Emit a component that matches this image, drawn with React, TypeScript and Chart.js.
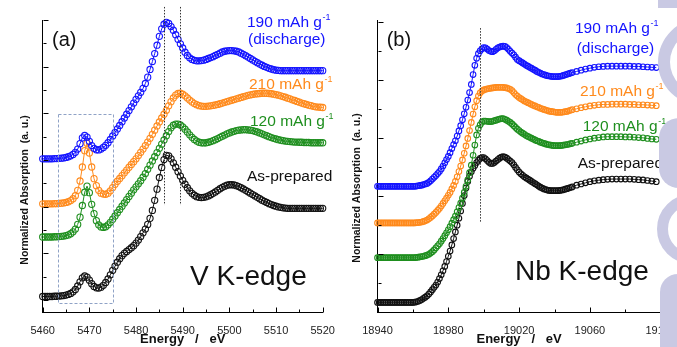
import React, { useEffect, useRef } from 'react';
import { Chart, registerables } from 'chart.js';

Chart.register(...registerables);

const FONT = '"Liberation Sans", Arial, Helvetica, sans-serif';

// ---------------- V K-edge (panel a) ----------------
const V_ENERGY = [
  5460, 5460.5, 5461, 5461.5, 5462, 5462.5, 5463, 5463.5, 5464, 5464.5,
  5465, 5465.5, 5466, 5466.5, 5467, 5467.5, 5468, 5468.5, 5469, 5469.5,
  5470, 5470.5, 5471, 5471.5, 5472, 5472.5, 5473, 5473.5, 5474, 5474.5,
  5475, 5475.5, 5476, 5476.5, 5477, 5477.5, 5478, 5478.5, 5479, 5479.5,
  5480, 5480.5, 5481, 5481.5, 5482, 5482.5, 5483, 5483.5, 5484, 5484.5,
  5485, 5485.5, 5486, 5486.5, 5487, 5487.5, 5488, 5488.5, 5489, 5489.5,
  5490, 5490.5, 5491, 5491.5, 5492, 5492.5, 5493, 5493.5, 5494, 5494.5,
  5495, 5495.5, 5496, 5496.5, 5497, 5497.5, 5498, 5498.5, 5499, 5499.5,
  5500, 5500.5, 5501, 5501.5, 5502, 5502.5, 5503, 5503.5, 5504, 5504.5,
  5505, 5505.5, 5506, 5506.5, 5507, 5507.5, 5508, 5508.5, 5509, 5509.5,
  5510, 5510.5, 5511, 5511.5, 5512, 5512.5, 5513, 5513.5, 5514, 5514.5,
  5515, 5515.5, 5516, 5516.5, 5517, 5517.5, 5518, 5518.5, 5519, 5519.5,
  5520,
];

const V_190 = [
  6.05, 6.05, 6.05, 6.05, 6.05, 6.06, 6.06, 6.07, 6.08, 6.09,
  6.11, 6.14, 6.18, 6.24, 6.33, 6.47, 6.7, 6.95, 7.05, 6.98,
  6.8, 6.62, 6.5, 6.44, 6.43, 6.47, 6.54, 6.63, 6.74, 6.88,
  7.03, 7.18, 7.33, 7.48, 7.64, 7.8, 7.96, 8.12, 8.28, 8.44,
  8.6, 8.75, 8.9, 9.07, 9.28, 9.55, 9.88, 10.22, 10.56, 10.92,
  11.3, 11.62, 11.82, 11.9, 11.85, 11.72, 11.56, 11.37, 11.17, 10.98,
  10.8, 10.62, 10.48, 10.38, 10.31, 10.27, 10.25, 10.25, 10.26, 10.28,
  10.31, 10.35, 10.39, 10.43, 10.48, 10.53, 10.58, 10.63, 10.66, 10.68,
  10.69, 10.69, 10.68, 10.66, 10.63, 10.58, 10.53, 10.47, 10.41, 10.35,
  10.29, 10.23, 10.17, 10.11, 10.06, 10.01, 9.97, 9.93, 9.9, 9.87,
  9.85, 9.84, 9.83, 9.83, 9.83, 9.83, 9.83, 9.83, 9.83, 9.83,
  9.83, 9.83, 9.83, 9.83, 9.83, 9.83, 9.83, 9.83, 9.83, 9.83,
  9.83,
];

const V_210 = [
  4.12, 4.12, 4.12, 4.12, 4.12, 4.13, 4.13, 4.14, 4.15, 4.16,
  4.18, 4.21, 4.26, 4.34, 4.47, 4.7, 5.1, 5.7, 6.4, 6.72,
  6.3, 5.7, 5.2, 4.9, 4.7, 4.58, 4.54, 4.53, 4.58, 4.68,
  4.82, 4.96, 5.09, 5.21, 5.33, 5.45, 5.57, 5.69, 5.81, 5.93,
  6.05, 6.19, 6.33, 6.47, 6.62, 6.77, 6.93, 7.1, 7.28, 7.46,
  7.63, 7.8, 7.96, 8.13, 8.32, 8.5, 8.66, 8.78, 8.85, 8.86,
  8.82, 8.75, 8.66, 8.57, 8.49, 8.42, 8.37, 8.33, 8.31, 8.3,
  8.3, 8.31, 8.32, 8.34, 8.36, 8.38, 8.41, 8.44, 8.47, 8.5,
  8.53, 8.56, 8.59, 8.62, 8.65, 8.68, 8.71, 8.74, 8.77, 8.79,
  8.81, 8.83, 8.84, 8.85, 8.86, 8.86, 8.86, 8.85, 8.84, 8.82,
  8.8, 8.78, 8.75, 8.72, 8.69, 8.65, 8.62, 8.58, 8.55, 8.51,
  8.48, 8.44, 8.41, 8.38, 8.35, 8.33, 8.3, 8.28, 8.27, 8.26,
  8.25,
];

const V_120 = [
  2.7, 2.7, 2.7, 2.7, 2.7, 2.71, 2.71, 2.72, 2.73, 2.74,
  2.76, 2.79, 2.84, 2.92, 3.04, 3.24, 3.55, 4.05, 4.62, 4.88,
  4.6, 4.1, 3.7, 3.4, 3.22, 3.13, 3.11, 3.14, 3.22, 3.33,
  3.46, 3.6, 3.74, 3.88, 4.02, 4.16, 4.3, 4.44, 4.58, 4.72,
  4.85, 4.98, 5.11, 5.26, 5.42, 5.6, 5.78, 5.96, 6.14, 6.32,
  6.5, 6.68, 6.86, 7.04, 7.22, 7.38, 7.49, 7.54, 7.54, 7.5,
  7.42, 7.32, 7.2, 7.08, 6.97, 6.88, 6.81, 6.76, 6.74, 6.73,
  6.74, 6.76, 6.79, 6.83, 6.87, 6.92, 6.97, 7.02, 7.07, 7.12,
  7.16, 7.2, 7.23, 7.26, 7.28, 7.29, 7.3, 7.3, 7.29, 7.28,
  7.26, 7.23, 7.2, 7.16, 7.12, 7.08, 7.04, 7.0, 6.96, 6.93,
  6.9, 6.87, 6.85, 6.83, 6.81, 6.8, 6.79, 6.78, 6.77, 6.77,
  6.76, 6.76, 6.75, 6.75, 6.75, 6.74, 6.74, 6.74, 6.74, 6.74,
  6.74,
];

const V_ASPREP = [
  0.15, 0.15, 0.15, 0.15, 0.15, 0.16, 0.16, 0.17, 0.18, 0.19,
  0.21, 0.24, 0.28, 0.35, 0.45, 0.6, 0.78, 0.95, 1.03, 0.98,
  0.85, 0.7, 0.58, 0.52, 0.51, 0.55, 0.63, 0.75, 0.9, 1.08,
  1.27, 1.45, 1.62, 1.77, 1.9, 2.0, 2.08, 2.16, 2.24, 2.33,
  2.44, 2.57, 2.72, 2.88, 3.04, 3.24, 3.5, 3.84, 4.27, 4.75,
  5.25, 5.68, 6.02, 6.2, 6.18, 6.05, 5.88, 5.69, 5.5, 5.31,
  5.13, 4.96, 4.81, 4.68, 4.57, 4.49, 4.43, 4.4, 4.39, 4.4,
  4.42, 4.46, 4.51, 4.57, 4.63, 4.7, 4.77, 4.83, 4.88, 4.92,
  4.94, 4.94, 4.93, 4.9, 4.86, 4.81, 4.76, 4.7, 4.64, 4.58,
  4.52, 4.46, 4.4, 4.34, 4.28, 4.23, 4.18, 4.13, 4.09, 4.05,
  4.02, 3.99, 3.97, 3.95, 3.94, 3.93, 3.93, 3.93, 3.93, 3.93,
  3.93, 3.93, 3.93, 3.93, 3.93, 3.93, 3.93, 3.93, 3.93, 3.93,
  3.93,
];

const V_X_TICKS = [5460, 5470, 5480, 5490, 5500, 5510, 5520];
const V_X_MINOR = [5465, 5475, 5485, 5495, 5505, 5515];
const V_Y_TICKS = [0, 1, 2, 3, 4, 5, 6, 7, 8, 9, 10, 11, 12];
const V_DOTTED = [5486, 5489.4];

// ---------------- Nb K-edge (panel b) ----------------
const NB_ENERGY = [
  18940, 18941, 18942, 18943, 18944, 18945, 18946, 18947, 18948, 18949,
  18950, 18951, 18952, 18953, 18954, 18955, 18956, 18957, 18958, 18959,
  18960, 18961, 18962, 18963, 18964, 18965, 18966, 18967, 18968, 18969,
  18970, 18971, 18972, 18973, 18974, 18975, 18976, 18977, 18978, 18979,
  18980, 18981, 18982, 18983, 18984, 18985, 18986, 18987, 18988, 18989,
  18990, 18991, 18992, 18993, 18994, 18995, 18996, 18997, 18998, 18999,
  19000, 19001, 19002, 19003, 19004, 19005, 19006, 19007, 19008, 19009,
  19010, 19011, 19012, 19013, 19014, 19015, 19016, 19017, 19018, 19019,
  19020, 19021, 19022, 19023, 19024, 19025, 19026, 19027, 19028, 19029,
  19030, 19031, 19032, 19033, 19034, 19035, 19036, 19037, 19038, 19039,
  19040, 19041, 19042, 19043, 19044, 19045, 19046, 19047, 19048, 19049,
  19050, 19052.5, 19055, 19057.5, 19060, 19062.5, 19065, 19067.5, 19070, 19072.5,
  19075, 19077.5, 19080, 19082.5, 19085, 19087.5, 19090, 19092.5, 19095, 19097.5,
];

const NB_190 = [
  4.33, 4.33, 4.33, 4.33, 4.33, 4.33, 4.33, 4.33, 4.33, 4.33,
  4.33, 4.33, 4.33, 4.33, 4.33, 4.33, 4.33, 4.33, 4.33, 4.33,
  4.33, 4.33, 4.34, 4.35, 4.36, 4.37, 4.39, 4.41, 4.43, 4.47,
  4.52, 4.58, 4.64, 4.7, 4.77, 4.84, 4.93, 5.03, 5.14, 5.25,
  5.36, 5.49, 5.63, 5.77, 5.9, 6.06, 6.24, 6.42, 6.62, 6.83,
  7.05, 7.3, 7.56, 7.84, 8.18, 8.5, 8.74, 8.9, 9.0, 9.07,
  9.11, 9.1, 9.06, 9.01, 8.98, 8.97, 9.0, 9.05, 9.1, 9.13,
  9.15, 9.16, 9.15, 9.11, 9.05, 8.98, 8.92, 8.86, 8.78, 8.7,
  8.66, 8.62, 8.58, 8.54, 8.5, 8.47, 8.43, 8.4, 8.36, 8.33,
  8.29, 8.26, 8.23, 8.2, 8.18, 8.16, 8.14, 8.13, 8.12, 8.11,
  8.11, 8.11, 8.11, 8.12, 8.13, 8.15, 8.17, 8.19, 8.21, 8.23,
  8.25, 8.29, 8.33, 8.37, 8.4, 8.43, 8.45, 8.46, 8.47, 8.47,
  8.47, 8.47, 8.47, 8.47, 8.46, 8.46, 8.45, 8.44, 8.43, 8.42,
];

const NB_210 = [
  3.07, 3.07, 3.07, 3.07, 3.07, 3.07, 3.07, 3.07, 3.07, 3.07,
  3.07, 3.07, 3.07, 3.07, 3.07, 3.07, 3.07, 3.07, 3.07, 3.07,
  3.07, 3.07, 3.08, 3.08, 3.09, 3.1, 3.12, 3.14, 3.17, 3.21,
  3.26, 3.31, 3.37, 3.43, 3.5, 3.57, 3.65, 3.74, 3.83, 3.92,
  4.02, 4.12, 4.24, 4.36, 4.5, 4.66, 4.84, 5.03, 5.24, 5.47,
  5.72, 5.98, 6.25, 6.53, 6.82, 7.07, 7.28, 7.44, 7.55, 7.61,
  7.65, 7.67, 7.69, 7.7, 7.71, 7.72, 7.73, 7.74, 7.74, 7.74,
  7.74, 7.74, 7.73, 7.72, 7.7, 7.67, 7.63, 7.56, 7.49, 7.44,
  7.39, 7.35, 7.31, 7.27, 7.24, 7.21, 7.18, 7.15, 7.12, 7.1,
  7.07, 7.05, 7.02, 7.0, 6.98, 6.96, 6.94, 6.92, 6.91, 6.9,
  6.89, 6.88, 6.88, 6.88, 6.88, 6.89, 6.9, 6.91, 6.93, 6.95,
  6.97, 7.0, 7.04, 7.07, 7.1, 7.12, 7.14, 7.15, 7.15, 7.16,
  7.16, 7.16, 7.16, 7.15, 7.15, 7.14, 7.14, 7.13, 7.12, 7.11,
];

const NB_120 = [
  1.87, 1.87, 1.87, 1.87, 1.87, 1.87, 1.87, 1.87, 1.87, 1.87,
  1.87, 1.87, 1.87, 1.87, 1.87, 1.87, 1.87, 1.87, 1.87, 1.87,
  1.87, 1.87, 1.88, 1.89, 1.9, 1.91, 1.92, 1.94, 1.96, 1.99,
  2.03, 2.08, 2.14, 2.21, 2.28, 2.35, 2.44, 2.53, 2.63, 2.73,
  2.83, 2.94, 3.06, 3.18, 3.3, 3.45, 3.6, 3.75, 3.92, 4.12,
  4.33, 4.55, 4.8, 5.06, 5.4, 5.75, 6.1, 6.33, 6.45, 6.54,
  6.58, 6.58, 6.57, 6.56, 6.56, 6.57, 6.59, 6.61, 6.63, 6.65,
  6.66, 6.66, 6.64, 6.61, 6.57, 6.53, 6.48, 6.42, 6.36, 6.3,
  6.25, 6.2, 6.16, 6.12, 6.08, 6.05, 6.02, 5.99, 5.96, 5.93,
  5.9, 5.88, 5.85, 5.83, 5.81, 5.79, 5.77, 5.76, 5.75, 5.74,
  5.73, 5.73, 5.73, 5.73, 5.74, 5.75, 5.76, 5.77, 5.78, 5.8,
  5.81, 5.85, 5.89, 5.93, 5.96, 5.99, 6.01, 6.03, 6.04, 6.04,
  6.04, 6.04, 6.03, 6.03, 6.02, 6.01, 6.0, 5.98, 5.96, 5.95,
];

const NB_ASPREP = [
  0.33, 0.33, 0.33, 0.33, 0.33, 0.33, 0.33, 0.33, 0.33, 0.33,
  0.33, 0.33, 0.33, 0.33, 0.33, 0.33, 0.33, 0.33, 0.33, 0.33,
  0.33, 0.34, 0.35, 0.37, 0.4, 0.43, 0.47, 0.51, 0.56, 0.62,
  0.69, 0.77, 0.85, 0.93, 1.03, 1.15, 1.28, 1.42, 1.57, 1.74,
  1.92, 2.1, 2.31, 2.53, 2.76, 2.99, 3.23, 3.48, 3.74, 4.01,
  4.27, 4.5, 4.68, 4.83, 4.95, 5.05, 5.15, 5.23, 5.29, 5.32,
  5.32, 5.28, 5.22, 5.16, 5.12, 5.12, 5.15, 5.2, 5.25, 5.3,
  5.34, 5.35, 5.34, 5.3, 5.25, 5.2, 5.15, 5.07, 4.98, 4.9,
  4.82, 4.76, 4.71, 4.66, 4.62, 4.58, 4.54, 4.5, 4.46, 4.42,
  4.38, 4.34, 4.3, 4.27, 4.24, 4.22, 4.2, 4.19, 4.18, 4.18,
  4.18, 4.18, 4.18, 4.19, 4.2, 4.21, 4.23, 4.25, 4.27, 4.29,
  4.31, 4.37, 4.41, 4.45, 4.49, 4.52, 4.54, 4.56, 4.57, 4.58,
  4.58, 4.58, 4.58, 4.58, 4.57, 4.56, 4.55, 4.53, 4.51, 4.49,
];

const NB_X_TICKS = [18940, 18980, 19020, 19060, 19100];
const NB_X_MINOR = [18960, 19000, 19040, 19080];
const NB_Y_TICKS = [0, 1, 2, 3, 4, 5, 6, 7, 8, 9, 10];
const NB_DOTTED = [18998];

const SERIES_NAMES = ['190 mAh g-1 (discharge)', '210 mAh g-1', '120 mAh g-1', 'As-prepared'];
const COLORS = ['#1414ff', '#ff8a1c', '#1f8f1f', '#111111'];
const Y_TITLE = 'Normalized Absorption  (a. u.)';
const X_TITLE = 'Energy   /   eV';

type Label = { parts: { t: string; sup?: boolean }[]; x: number; y: number; color: string; size: number };

function drawLabel(ctx: CanvasRenderingContext2D, lab: Label) {
  let x = lab.x;
  ctx.fillStyle = lab.color;
  ctx.textAlign = 'left';
  ctx.textBaseline = 'alphabetic';
  for (const p of lab.parts) {
    if (p.sup) {
      ctx.font = `${Math.round(lab.size * 0.6)}px ${FONT}`;
      ctx.fillText(p.t, x + 0.5, lab.y - lab.size * 0.42);
      x += ctx.measureText(p.t).width + 0.5;
    } else {
      ctx.font = `${lab.size}px ${FONT}`;
      ctx.fillText(p.t, x, lab.y);
      x += ctx.measureText(p.t).width;
    }
  }
}

type PanelCfg = {
  energy: number[];
  series: number[][];
  xMin: number; xMax: number; yMin: number; yMax: number;
  xTicks: number[]; xMinor: number[]; yTicks: number[];
  dotted: number[]; dottedTop: number; dottedBottom: number;
  box?: [number, number, number, number];
  padding: { left: number; right: number; top: number; bottom: number };
  yWidth: number; xHeight: number;
  yTitleX: number; yTitleY: number;
  labels: Label[];
  radius: number;
};

function sup(main: string): { t: string; sup?: boolean }[] {
  return [{ t: main }, { t: '-1', sup: true }];
}

const LABEL_SIZE = 15.5;

const LEFT: PanelCfg = {
  energy: V_ENERGY,
  series: [V_190, V_210, V_120, V_ASPREP],
  xMin: 5460, xMax: 5520, yMin: -0.514, yMax: 12,
  xTicks: V_X_TICKS, xMinor: V_X_MINOR, yTicks: V_Y_TICKS,
  dotted: V_DOTTED, dottedTop: 12.56, dottedBottom: 4.07,
  box: [5463.3, 5475, 7.97, -0.13],
  padding: { left: 0, right: 17.3, top: 20, bottom: 0 },
  yWidth: 42.7, xHeight: 35,
  yTitleX: 25, yTitleY: 190,
  radius: 3.1,
  labels: [
    { parts: [{ t: '(a)' }], x: 52, y: 46, color: '#111', size: 20 },
    { parts: [{ t: 'V K-edge' }], x: 190, y: 285, color: '#111', size: 28 },
    { parts: sup('190 mAh g'), x: 247, y: 26.5, color: COLORS[0], size: LABEL_SIZE },
    { parts: [{ t: '(discharge)' }], x: 248, y: 44, color: COLORS[0], size: LABEL_SIZE },
    { parts: sup('210 mAh g'), x: 249, y: 88.5, color: COLORS[1], size: LABEL_SIZE },
    { parts: sup('120 mAh g'), x: 250, y: 126, color: COLORS[2], size: LABEL_SIZE },
    { parts: [{ t: 'As-prepared' }], x: 247, y: 181, color: '#111', size: LABEL_SIZE },
  ],
};

const RIGHT: PanelCfg = {
  energy: NB_ENERGY,
  series: [NB_190, NB_210, NB_120, NB_ASPREP],
  xMin: 18940, xMax: 19100, yMin: 0, yMax: 10.06,
  xTicks: NB_X_TICKS, xMinor: NB_X_MINOR, yTicks: NB_Y_TICKS,
  dotted: NB_DOTTED, dottedTop: 9.78, dottedBottom: 3.07,
  padding: { left: 0, right: 16.5, top: 20, bottom: 0 },
  yWidth: 37.5, xHeight: 35,
  yTitleX: 16.7, yTitleY: 188,
  radius: 2.8,
  labels: [
    { parts: [{ t: '(b)' }], x: 46.7, y: 46, color: '#111', size: 20 },
    { parts: [{ t: 'Nb K-edge' }], x: 175, y: 280, color: '#111', size: 28 },
    { parts: sup('190 mAh g'), x: 235, y: 32.8, color: COLORS[0], size: LABEL_SIZE },
    { parts: [{ t: '(discharge)' }], x: 236.7, y: 53, color: COLORS[0], size: LABEL_SIZE },
    { parts: sup('210 mAh g'), x: 240, y: 96, color: COLORS[1], size: LABEL_SIZE },
    { parts: sup('120 mAh g'), x: 242.7, y: 131, color: COLORS[2], size: LABEL_SIZE },
    { parts: [{ t: 'As-prepared' }], x: 237.7, y: 168, color: '#111', size: LABEL_SIZE },
  ],
};

function makeChart(canvas: HTMLCanvasElement, cfg: PanelCfg) {
  const decor = {
    id: 'decor',
    afterDraw(chart: any) {
      const ctx: CanvasRenderingContext2D = chart.ctx;
      const xs = chart.scales.x;
      const ys = chart.scales.y;
      const area = chart.chartArea;
      ctx.save();
      ctx.lineWidth = 1;
      ctx.strokeStyle = '#000';
      ctx.setLineDash([]);
      ctx.beginPath();
      const bottom = Math.round(area.bottom) + 0.5;
      const left = Math.round(area.left) + 0.5;
      for (const v of cfg.xTicks) {
        const p = Math.round(xs.getPixelForValue(v)) + 0.5;
        ctx.moveTo(p, bottom); ctx.lineTo(p, bottom - 5);
      }
      for (const v of cfg.xMinor) {
        const p = Math.round(xs.getPixelForValue(v)) + 0.5;
        ctx.moveTo(p, bottom); ctx.lineTo(p, bottom - 3);
      }
      for (const v of cfg.yTicks) {
        const p = Math.round(ys.getPixelForValue(v)) + 0.5;
        const len = v % 2 === 0 ? 5 : 3;
        ctx.moveTo(left, p); ctx.lineTo(left + len, p);
      }
      ctx.stroke();

      // dotted reference lines
      ctx.strokeStyle = '#333';
      ctx.setLineDash([1.5, 1.5]);
      for (const e of cfg.dotted) {
        const p = Math.round(xs.getPixelForValue(e)) + 0.5;
        ctx.beginPath();
        ctx.moveTo(p, ys.getPixelForValue(cfg.dottedTop));
        ctx.lineTo(p, ys.getPixelForValue(cfg.dottedBottom));
        ctx.stroke();
      }

      // dashed pre-edge box
      if (cfg.box) {
        const [x0, x1, y0, y1] = cfg.box;
        const px0 = Math.round(xs.getPixelForValue(x0)) + 0.5;
        const px1 = Math.round(xs.getPixelForValue(x1)) + 0.5;
        const py0 = Math.round(ys.getPixelForValue(y0)) + 0.5;
        const py1 = Math.round(ys.getPixelForValue(y1)) + 0.5;
        ctx.strokeStyle = '#8fa2c6';
        ctx.setLineDash([3, 2]);
        ctx.strokeRect(px0, py0, px1 - px0, py1 - py0);
      }
      ctx.setLineDash([]);

      // y title
      ctx.save();
      ctx.translate(cfg.yTitleX, cfg.yTitleY);
      ctx.rotate(-Math.PI / 2);
      ctx.font = `bold 10.5px ${FONT}`;
      ctx.textAlign = 'center';
      ctx.textBaseline = 'middle';
      ctx.fillStyle = '#111';
      ctx.fillText(Y_TITLE, 0, 0);
      ctx.restore();

      for (const lab of cfg.labels) drawLabel(ctx, lab);
      ctx.restore();
    },
  };

  return new Chart(canvas, {
    type: 'line',
    data: {
      datasets: cfg.series.map((vals, si) => ({
        label: SERIES_NAMES[si],
        data: cfg.energy.map((x, i) => ({ x, y: vals[i] })),
        borderColor: COLORS[si],
        backgroundColor: COLORS[si],
        borderWidth: 1,
        pointRadius: cfg.radius,
        pointHoverRadius: cfg.radius,
        pointBorderWidth: 1.1,
        pointBorderColor: COLORS[si],
        pointBackgroundColor: 'rgba(0,0,0,0)',
        tension: 0,
        fill: false,
        clip: false as any,
      })),
    },
    options: {
      animation: false,
      responsive: false,
      maintainAspectRatio: false,
      events: [],
      layout: { padding: cfg.padding },
      plugins: { legend: { display: false }, tooltip: { enabled: false } },
      scales: {
        x: {
          type: 'linear',
          min: cfg.xMin,
          max: cfg.xMax,
          grid: { display: false },
          border: { display: true, color: '#000', width: 1 },
          afterBuildTicks: (scale: any) => {
            scale.ticks = cfg.xTicks.map((v) => ({ value: v }));
          },
          afterFit: (scale: any) => { scale.height = cfg.xHeight; },
          ticks: {
            autoSkip: false,
            maxRotation: 0,
            minRotation: 0,
            padding: 4,
            color: '#222',
            font: { family: FONT, size: 11 },
            callback: (v: any) => String(v),
          },
          title: {
            display: true,
            text: X_TITLE,
            color: '#111',
            font: { family: FONT, size: 13, weight: 'bold' },
            padding: { top: 0, bottom: 0 },
          },
        },
        y: {
          type: 'linear',
          min: cfg.yMin,
          max: cfg.yMax,
          grid: { display: false },
          border: { display: true, color: '#000', width: 1 },
          ticks: { display: false },
          afterFit: (scale: any) => { scale.width = cfg.yWidth; },
        },
      },
    } as any,
    plugins: [decor],
  });
}

const WM = '#c9c9e3';

export default function App() {
  const leftRef = useRef<HTMLCanvasElement>(null);
  const rightRef = useRef<HTMLCanvasElement>(null);

  useEffect(() => {
    const a = makeChart(leftRef.current!, LEFT);
    const b = makeChart(rightRef.current!, RIGHT);
    return () => { a.destroy(); b.destroy(); };
  }, []);

  const wm = (s: React.CSSProperties): React.CSSProperties => ({ position: 'absolute', boxSizing: 'border-box', ...s });

  return (
    <div style={{ position: 'fixed', left: 0, top: 0, width: 677, height: 347, overflow: 'hidden', background: '#fff' }}>
      <canvas ref={leftRef} width={340} height={347} style={{ position: 'absolute', left: 0, top: 0, width: 340, height: 347 }} />
      <canvas ref={rightRef} width={340} height={347} style={{ position: 'absolute', left: 340, top: 0, width: 340, height: 347 }} />
      <div style={wm({ left: 658, top: 0, width: 40, height: 8, background: WM })} />
      <div style={wm({ left: 658, top: 18, width: 90, height: 88, borderRadius: '50%', border: `12px solid ${WM}` })} />
      <div style={wm({ left: 659, top: 118, width: 40, height: 70, borderRadius: '20px 0 0 20px', background: WM })} />
      <div style={wm({ left: 657, top: 194, width: 70, height: 70, borderRadius: '50%', border: `11px solid ${WM}` })} />
      <div style={wm({ left: 660, top: 274, width: 40, height: 80, borderRadius: '18px 0 0 0', background: WM })} />
    </div>
  );
}
